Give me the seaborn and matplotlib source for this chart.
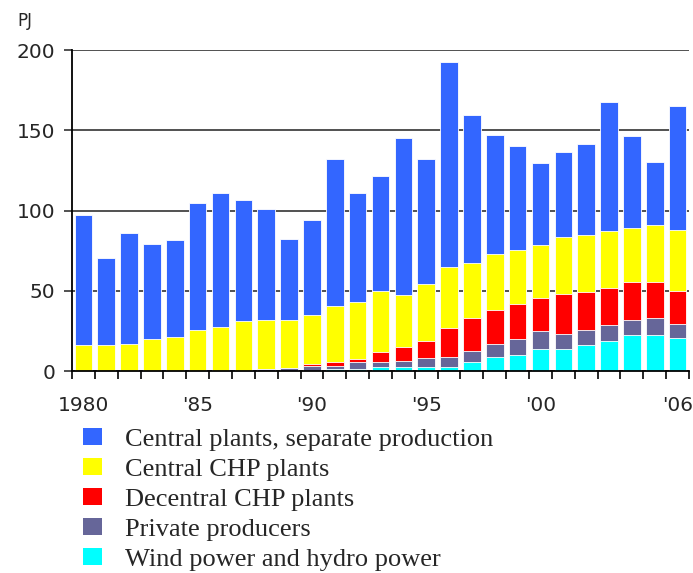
import numpy as np
import pandas as pd
import seaborn as sns
import matplotlib.pyplot as plt
from matplotlib.patches import Patch

sns.set_theme(style="white")
plt.rcParams["font.family"] = ["DejaVu Sans"]

# data (PJ)
years = list(range(1980, 2007))
wind = [0, 0, 0, 0, 0, 0, 0, 0, 0, 0, 0, 1.2, 1.5, 2.3, 2.3, 2.3, 2.3,
        5.5, 8.5, 10.0, 13.9, 13.9, 16.2, 18.7, 22.2, 22.2, 20.8]
private = [0, 0, 0, 0, 0, 0, 0, 0, 1.4, 2.1, 3.3, 2.1, 4.1, 3.3, 3.9, 5.6, 6.2,
           6.8, 8.5, 10.0, 11.0, 9.2, 9.4, 9.8, 9.4, 10.9, 8.5]
decentral = [0, 0, 0, 0, 0, 0, 0, 0, 0, 0, 0.9, 2.1, 2.1, 6.0, 8.6, 10.8, 18.5,
             21.0, 20.8, 21.8, 20.8, 24.7, 23.9, 23.3, 23.9, 22.4, 20.6]
central_chp = [16.5, 16.5, 17.1, 20.2, 21.0, 25.6, 27.3, 31.0, 30.2, 29.5, 30.5,
               35.4, 35.6, 38.5, 32.8, 35.4, 37.7, 33.7, 35.4, 33.7, 33.0, 35.4,
               35.3, 35.3, 33.9, 35.4, 37.8]
central_sep = [80.6, 54.2, 68.6, 59.2, 60.9, 79.2, 83.7, 75.3, 69.2, 50.7, 59.3,
               91.0, 67.7, 71.5, 97.3, 77.7, 128.0, 92.5, 74.0, 64.8, 50.6, 53.2,
               56.4, 80.3, 57.0, 39.3, 77.2]

series = ["Central plants, separate production", "Central CHP plants",
          "Decentral CHP plants", "Private producers", "Wind power and hydro power"]
colors = ["#3366ff", "#ffff00", "#ff0000", "#666699", "#00ffff"]
tick_years = {1980: "1980", 1985: "'85", 1990: "'90", 1995: "'95", 2000: "'00", 2006: "'06"}

df = pd.DataFrame({
    "year": [str(y) for y in years],
    series[4]: wind,
    series[3]: private,
    series[2]: decentral,
    series[1]: central_chp,
    series[0]: central_sep,
})

fig = plt.figure(figsize=(6.93, 5.73), dpi=100)
ax = fig.add_axes([0.1039, 0.3525, 0.8903, 0.5602])

# stacked bars: draw cumulative totals from the top layer down
stack_order = series[::-1]
cum = df[stack_order].cumsum(axis=1)
for name, col in zip(series, colors):
    sns.barplot(x=df["year"], y=cum[name], color=col, saturation=1, width=0.77,
                edgecolor="white", linewidth=0.6, errorbar=None, ax=ax)

ax.set_xlabel("")
ax.set_ylabel("")
ax.set_ylim(0, 200)
ax.set_xlim(-0.5, len(years) - 0.5)

ax.set_yticks([0, 50, 100, 150, 200])
ax.yaxis.grid(True, color="#333333", linewidth=1.2)
ax.set_axisbelow(True)
ax.tick_params(axis="y", length=6, width=1.2, color="#333333", pad=6,
               labelsize=14.5, left=True)

ax.set_xticks([years.index(y) for y in tick_years])
ax.set_xticklabels(list(tick_years.values()))
ax.set_xticks(np.arange(-0.5, len(years), 1), minor=True)
ax.tick_params(axis="x", which="major", length=0, pad=18, labelsize=14.5)
ax.tick_params(axis="x", which="minor", length=6, width=1.2, color="black", bottom=True)

for s in ["top", "right"]:
    ax.spines[s].set_visible(False)
for s in ["left", "bottom"]:
    ax.spines[s].set_color("black")
    ax.spines[s].set_linewidth(1.3)

fig.text(17 / 693, 1 - 21 / 573, "PJ", fontsize=12, va="center", ha="left")

handles = [Patch(facecolor=c, edgecolor="none") for c in colors]
fig.legend(handles, series, loc="upper left", bbox_to_anchor=(83 / 693, 1 - 428 / 573),
           frameon=False, prop={"family": "Liberation Serif", "size": 19},
           handlelength=0.72, handleheight=0.6, handletextpad=0.87,
           labelspacing=0.28, borderpad=0, borderaxespad=0)

plt.savefig("out.png", dpi=100)
